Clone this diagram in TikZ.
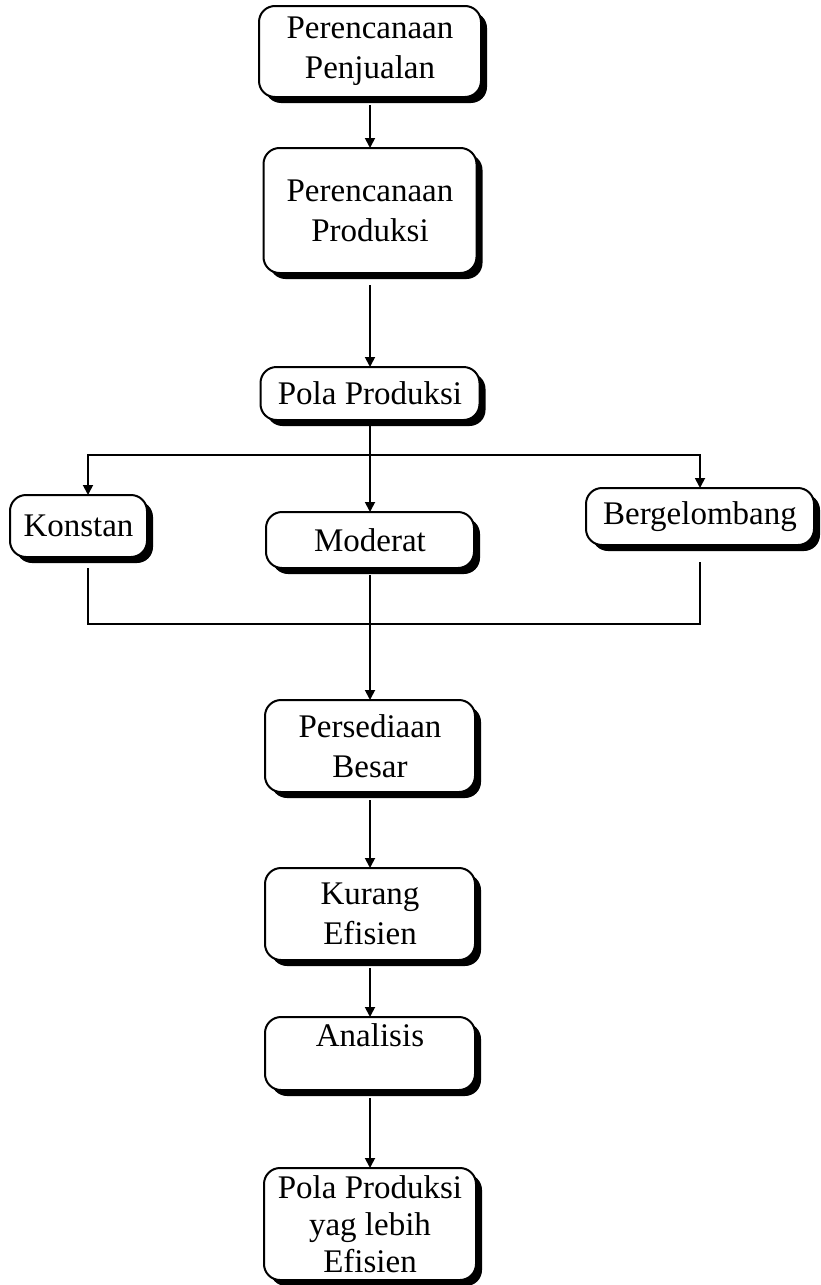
\documentclass[tikz,border=0pt]{standalone}
\usepackage{fontspec}
\setmainfont{Liberation Serif}
\usetikzlibrary{arrows.meta, positioning, shadows}

\begin{document}
\begin{tikzpicture}[
    stage/.style={draw=black, line width=1pt, rounded corners=8pt, fill=white,
                  minimum width=105pt, align=center, inner sep=3pt, outer sep=0pt,
                  font=\fontsize{16.5}{20}\selectfont,
                  drop shadow={shadow xshift=3pt, shadow yshift=-3pt, opacity=1, fill=black}},
    flow/.style={line width=0.9pt, -{Triangle[length=5pt, width=5pt]}},
    link/.style={line width=0.9pt}
]
    \useasboundingbox (0,0) rectangle (410pt,-642.5pt);

    % Planning chain
    \node[stage, minimum width=111pt, minimum height=45.5pt] (jual) at (185pt,-25.75pt) {Perencanaan\\Penjualan};
    \node[stage, minimum width=106.5pt, minimum height=62.5pt, below=25.5pt of jual] (prod) {Perencanaan\\Produksi};
    \node[stage, minimum width=109.5pt, minimum height=26.5pt, below=47pt of prod] (pola) {Pola Produksi};

    % Production patterns
    \node[stage, minimum width=104pt, minimum height=28pt, below=46pt of pola] (moderat) {Moderat};
    \node[stage, minimum width=68.5pt, minimum height=31pt] (konstan) at (39.25pt,-263pt) {Konstan};
    \node[stage, minimum width=114pt, minimum height=28.5pt] (gelombang) at (350pt,-258.25pt) {Bergelombang};

    % Outcome chain
    \node[stage, minimum height=46pt, below=66pt of moderat] (sedia) {Persediaan\\Besar};
    \node[stage, minimum height=46pt, below=38pt of sedia] (kurang) {Kurang\\Efisien};
    \node[stage, text height=11.5pt, text depth=19pt, below=28.5pt of kurang] (analisis) {Analisis};
    \node[stage, minimum width=106pt, minimum height=56pt, inner ysep=1pt,
          font=\fontsize{16.5}{18.5}\selectfont, below=39pt of analisis] (efisien) {Pola Produksi\\yag lebih\\Efisien};

    % Connectors
    \draw[flow, shorten <=4pt] (jual) -- (prod);
    \draw[flow, shorten <=6pt] (prod) -- (pola);
    \draw[flow, shorten <=3pt] (pola) -- (moderat);

    \coordinate[below=17.5pt of pola.south] (fork);
    \draw[flow] (fork) -| ([xshift=4.75pt]konstan.north);
    \draw[flow] (fork) -| (gelombang.north);

    \coordinate[below=28pt of moderat.south] (merge);
    \draw[link, shorten <=5.5pt] ([xshift=4.75pt]konstan.south) |- (merge);
    \draw[link, shorten <=8.5pt] (gelombang.south) |- (merge);
    \draw[flow, shorten <=3.5pt] (moderat) -- (sedia);

    \draw[flow, shorten <=4pt] (sedia) -- (kurang);
    \draw[flow, shorten <=4pt] (kurang) -- (analisis);
    \draw[flow, shorten <=4pt] (analisis) -- (efisien);
\end{tikzpicture}
\end{document}
